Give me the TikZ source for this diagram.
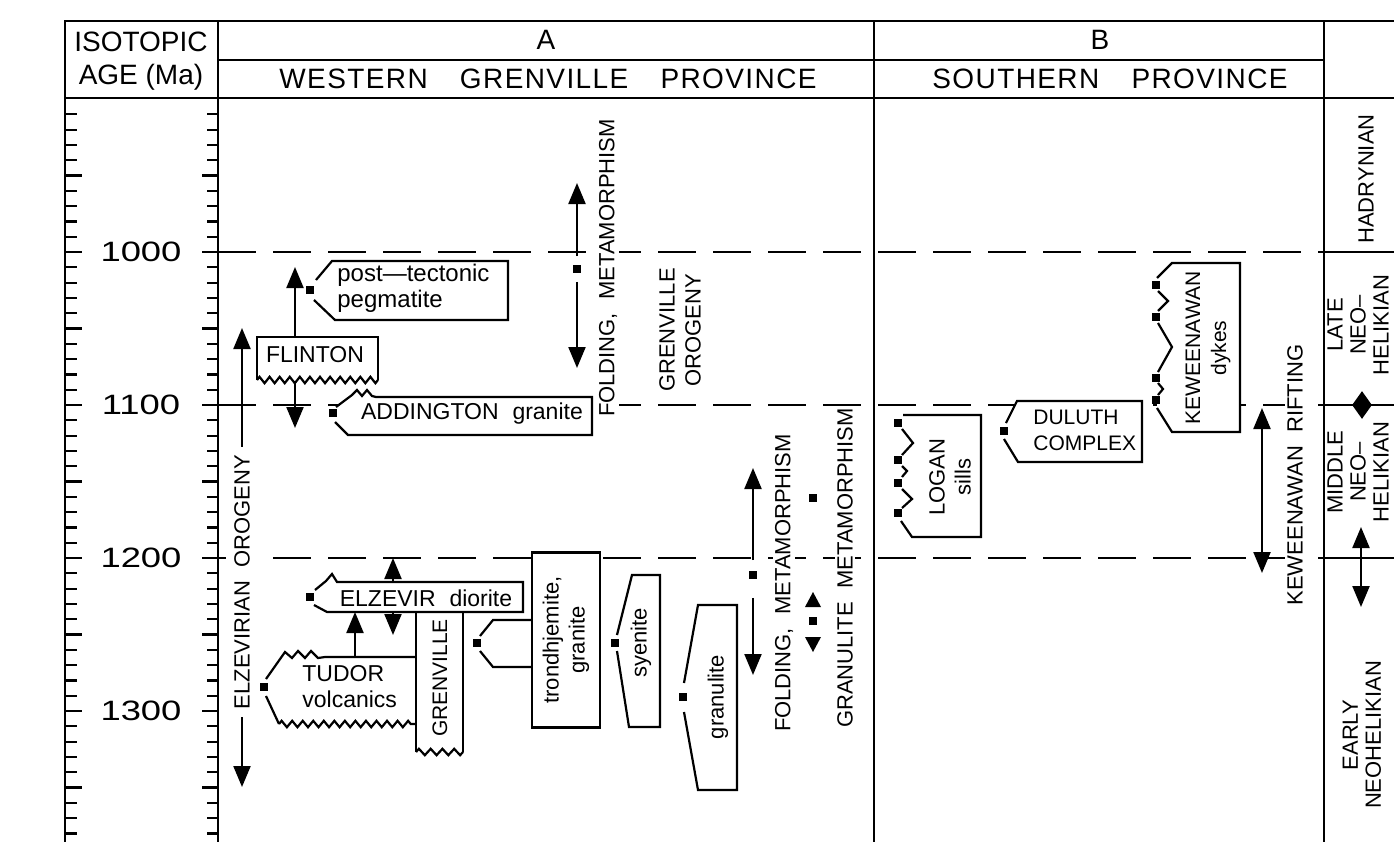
\documentclass[tikz,border=0pt]{standalone}
\usepackage{fontspec}
\setmainfont{Liberation Sans}
\newfontfamily\agefont[FakeStretch=1.3]{Liberation Sans}
\newfontfamily\headfont[LetterSpace=5]{Liberation Sans}
\usetikzlibrary{positioning,shapes.geometric,arrows.meta,decorations.pathmorphing}
\tikzset{
    frame/.style={line width=1.2pt},
    tick/.style={line width=1.1pt},
    ageline/.style={line width=1pt, dash pattern=on 19pt off 8.5pt},
    tagline/.style={draw=black, line width=1.1pt, line join=miter},
    tag/.style={tagline, fill=white},
    wavy/.style={line width=1.1pt, decorate, decoration={zigzag, segment length=5pt, amplitude=1.6pt}},
    marker/.style={rectangle, fill=black, minimum size=4.4pt, inner sep=0pt},
    arrow/.style={-{Triangle[width=8.5pt,length=10.5pt]}, line width=1.1pt},
    dblarrow/.style={{Triangle[width=8.5pt,length=10.5pt]}-{Triangle[width=8.5pt,length=10.5pt]}, line width=1.1pt},
    txt/.style={font=\fontsize{11.5}{13}\selectfont, align=center, inner sep=1pt},
    vtxt/.style={txt, font=\fontsize{11}{13}\selectfont, rotate=90},
    clear/.style={fill=white},
    eratxt/.style={vtxt, font=\fontsize{11}{11.5}\selectfont},
    smalltxt/.style={font=\fontsize{10.5}{13}\selectfont},
    head/.style={font=\fontsize{14}{16}\selectfont, inner sep=0pt},
    widehead/.style={head, font=\headfont\fontsize{14}{16}\selectfont},
    agelabel/.style={font=\agefont\fontsize{14}{16}\selectfont, inner sep=0pt}
}

\begin{document}
\begin{tikzpicture}[x=0.5pt, y=-0.5pt]
\useasboundingbox (0,0) rectangle (1394,842);

% frame and headings
\draw[frame] (1394,21) -- (65,21) -- (65,842);
\draw[frame] (65,98) -- (1394,98);
\draw[frame] (218,21) -- (218,842);
\draw[frame] (874,21) -- (874,842);
\draw[frame] (1324,21) -- (1324,842);
\draw[frame] (218,60) -- (1324,60);
\node (isotopic) [head] at (141,42) {ISOTOPIC};
\node (agema) [head] at (141,77) {AGE (Ma)};
\node (colA) [widehead] at (546,40) {A};
\node (colAname) [widehead] at (548,79) {WESTERN\hspace{1.15em}GRENVILLE\hspace{1.15em}PROVINCE};
\node (colB) [widehead] at (1100,40) {B};
\node (colBname) [widehead] at (1110,79) {SOUTHERN\hspace{1.15em}PROVINCE};

% age scale
\foreach \a in {910,920,...,1380}{
    \pgfmathsetmacro{\yy}{252+1.53*(\a-1000)}
    \pgfmathtruncatemacro{\lng}{mod(\a,50)==0}
    \ifnum\lng=1
        \draw[tick] (65,\yy) -- ++(17,0) (218,\yy) -- ++(-16,0);
    \else
        \draw[tick] (65,\yy) -- ++(12,0) (218,\yy) -- ++(-11,0);
    \fi
}
\foreach \a in {1000,1100,1200,1300}{
    \pgfmathsetmacro{\yy}{252+1.53*(\a-1000)}
    \node (age\a) [agelabel] at (141,\yy) {\a};
}
\foreach \yy in {252,405,558}{
    \draw[ageline] (218,\yy) -- (1324,\yy);
    \draw[frame] (1324,\yy) -- (1394,\yy);
}

% A: western Grenville
\node (elzOrogeny) [vtxt, clear, inner sep=4pt] at (242,582) {ELZEVIRIAN\hspace{0.6em}OROGENY};
\coordinate (elzTop) at (242,328);
\coordinate (elzBot) at (242,787);
\draw[arrow] (elzOrogeny.east) -- (elzTop);
\draw[arrow] (elzOrogeny.west) -- (elzBot);

\draw[tagline] (257,380) -- (257,337) -- (378,337) -- (378,380);
\draw[wavy, decoration={segment length=5.04pt}] (257,380) -- (378,380);
\node (flinton) [txt] at (315,355) {FLINTON};
\coordinate (flintonTop) at (295,337);
\coordinate (flintonBase) at (295,383);
\coordinate (flintonUp) at (295,267);
\coordinate (flintonDown) at (295,428);
\draw[arrow] (flintonTop) -- (flintonUp);
\draw[arrow] (flintonBase) -- (flintonDown);

\draw[tag] (316,280) -- (332,261) -- (508,261) -- (508,320) -- (335,320) -- (314,300);
\node (pegMk) [marker] at (310,290) {};
\node (pegmatite) [txt, font=\fontsize{12}{13}\selectfont, align=left, anchor=west] at (335,288) {post---tectonic\\pegmatite};

\draw[tag] (336,407) -- (352,395) -- (357,390) -- (362,396) -- (367,390) -- (372,396) -- (376,397) -- (592,397) -- (592,435) -- (348,435) -- (335,422);
\node (addMk) [marker] at (333,413) {};
\node (addington) [txt] at (472,414) {ADDINGTON\hspace{0.6em}granite};

\draw[tag] (315,590) -- (326,581) -- (332,574) -- (337,582) -- (523,582) -- (523,612) -- (327,612) -- (314,605);
\node (elzMk) [marker] at (310,597) {};
\node (elzevir) [txt] at (426,598) {ELZEVIR\hspace{0.6em}diorite};
\coordinate (elzBoxTop) at (393,582);
\coordinate (elzBoxBase) at (393,612);
\coordinate (elzUp) at (393,558);
\coordinate (elzDown) at (393,635);
\draw[arrow] (elzBoxTop) -- (elzUp);
\draw[arrow] (elzBoxBase) -- (elzDown);

\draw[tagline] (416,752) -- (416,612) -- (463,612) -- (463,752);
\draw[wavy, decoration={segment length=5.875pt}] (416,752) -- (463,752);
\node (grenville) [vtxt, smalltxt] at (440,678) {GRENVILLE};

\draw[tagline] (266,679) -- (285,652) -- (292,658) -- (298,651) -- (305,658) -- (311,651) -- (318,658) -- (325,657) -- (416,657);
\draw[tagline] (266,696) -- (279,724);
\draw[wavy, decoration={segment length=5.27pt}] (279,724) -- (416,724);
\node (tudorMk) [marker] at (264,687) {};
\node (tudor) [txt, align=left, anchor=west] at (300,687) {TUDOR\\volcanics};
\coordinate (tudorTop) at (355,657);
\coordinate (tudorUp) at (355,612);
\draw[arrow] (tudorTop) -- (tudorUp);

\node (trond) [tag, vtxt, minimum width=87.5pt, minimum height=34pt, inner sep=0pt] at (566,640) {trondhjemite,\\granite};
\draw[tagline] (480,636) -- (493,620) -- (532,620);
\draw[tagline] (480,651) -- (493,667) -- (532,667);
\node (trondMk) [marker] at (477,643) {};

\draw[tag] (617,635) -- (632,575) -- (660,575) -- (660,727) -- (629,727) -- (617,651);
\node (syeMk) [marker] at (615,643) {};
\node (syenite) [vtxt] at (641,643) {syenite};

\draw[tag] (684,683) -- (698,605) -- (737,605) -- (737,790) -- (698,790) -- (684,712);
\node (graMk) [marker] at (683,697) {};
\node (granulite) [vtxt] at (718,697) {granulite};

\node (foldMkA) [marker] at (577,269) {};
\coordinate (foldUpA) at (577,183);
\coordinate (foldDownA) at (577,368);
\draw[arrow, shorten <=4pt] (foldMkA) -- (foldUpA);
\draw[arrow, shorten <=4pt] (foldMkA) -- (foldDownA);
\node (foldTxtA) [vtxt, clear] at (608,268) {FOLDING,\hspace{0.6em}METAMORPHISM};
\node (grenOrogeny) [vtxt] at (680,330) {GRENVILLE\\OROGENY};

\node (foldMkB) [marker] at (753,575) {};
\coordinate (foldUpB) at (753,468);
\coordinate (foldDownB) at (753,675);
\draw[arrow, shorten <=5pt] (foldMkB) -- (foldUpB);
\draw[arrow, shorten <=9pt] (foldMkB) -- (foldDownB);
\node (foldTxtB) [vtxt, clear] at (784,583) {FOLDING,\hspace{0.6em}METAMORPHISM};

\node (granMet) [vtxt, clear] at (845,568) {GRANULITE\hspace{0.6em}METAMORPHISM};
\node (granMkA) [marker] at (813,498) {};
\node (granMkB) [marker] at (813,621) {};
\fill (805,607) -- (813,592) -- (821,607) -- cycle;
\fill (805,637) -- (813,652) -- (821,637) -- cycle;

% B: southern province
\draw[tag] (903,415) -- (981,415) -- (981,537) -- (912,537) -- (901,521);
\draw[tagline] (902,429) -- (913,443) -- (902,455);
\draw[tagline] (902,466) -- (907,471) -- (902,477);
\draw[tagline] (902,489) -- (912,499) -- (902,508);
\foreach \yy [count=\i] in {423,460,483,513}
    \node (loganMk\i) [marker] at (898,\yy) {};
\node (logan) [vtxt] at (950,477) {LOGAN\\sills};

\draw[tag] (1006,423) -- (1017,401) -- (1142,401) -- (1142,462) -- (1018,462) -- (1004,439);
\node (dulMk) [marker] at (1004,431) {};
\node (duluth) [txt, smalltxt, align=left, anchor=west] at (1031,430) {DULUTH\\COMPLEX};

\draw[tag] (1157,278) -- (1172,263) -- (1240,263) -- (1240,432) -- (1172,432) -- (1157,408);
\draw[tagline] (1158,291) -- (1168,301) -- (1158,311);
\draw[tagline] (1158,323) -- (1172,347) -- (1158,372);
\draw[tagline] (1158,383) -- (1163,389) -- (1158,395);
\foreach \yy [count=\i] in {285,317,378,400}
    \node (kewMk\i) [marker] at (1156,\yy) {};
\node (kewDykes) [vtxt, smalltxt] at (1208,348) {KEWEENAWAN\\dykes};

\node (rifting) [vtxt, clear] at (1295,475) {KEWEENAWAN\hspace{0.6em}RIFTING};
\coordinate (riftTop) at (1262,408);
\coordinate (riftBot) at (1262,573);
\draw[dblarrow] (riftTop) -- (riftBot);

% C: eras
\node (hadrynian) [vtxt] at (1366,179) {HADRYNIAN};
\node (lateNeo) [eratxt] at (1358,325) {LATE\\NEO--\\HELIKIAN};
\node (boundary) [diamond, fill=black, minimum width=10pt, minimum height=14pt, inner sep=0pt] at (1362,405) {};
\node (midNeo) [eratxt] at (1358,472) {MIDDLE\\NEO--\\HELIKIAN};
\coordinate (midTop) at (1361,527);
\coordinate (midBot) at (1361,607);
\draw[dblarrow] (midTop) -- (midBot);
\node (earlyNeo) [eratxt] at (1362,735) {EARLY\\NEOHELIKIAN};
\end{tikzpicture}
\end{document}
